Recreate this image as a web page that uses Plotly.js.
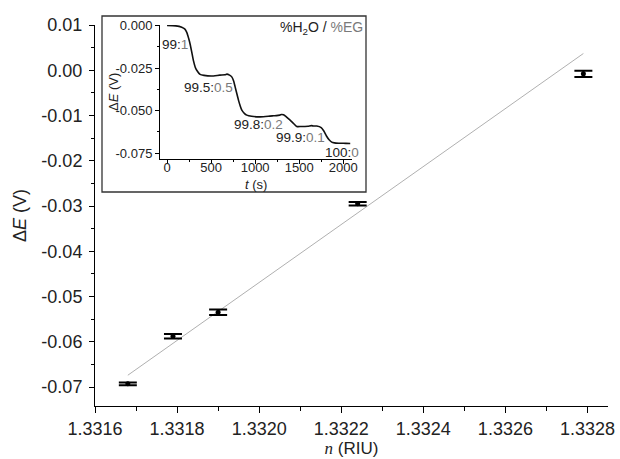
<!DOCTYPE html>
<html>
<head>
<meta charset="utf-8">
<script src="https://cdn.plot.ly/plotly-3.0.1.min.js"></script>
<style>html,body{margin:0;padding:0;background:#fff;}#chart{width:620px;height:459px;}</style>
</head>
<body>
<div id="chart"></div>
<script>
// Main chart data
const nRIU   = [1.33168, 1.33179, 1.33190, 1.33224, 1.33279];
const dE     = [-0.0693, -0.0588, -0.0535, -0.0295, -0.0008];
const dEerr  = [0.0003, 0.0005, 0.0006, 0.0004, 0.0007];
const fitN   = [1.33168, 1.33279];
const fitE   = [-0.0674, 0.0037];

// Inset data
const tSec = [0, 100, 167, 200, 224, 245, 261, 280, 299, 320, 337, 375, 420, 504, 600, 659, 680, 710, 735, 755, 773, 792, 811, 830, 849, 880, 905, 960, 1057, 1150, 1208, 1280, 1300, 1322, 1345, 1360, 1400, 1436, 1473, 1520, 1600, 1640, 1663, 1700, 1750, 1780, 1810, 1840, 1870, 1900, 1950, 2030, 2080];
const dEt  = [0, -0.0002, -0.001, -0.002, -0.004, -0.0075, -0.0107, -0.0155, -0.0205, -0.0245, -0.0263, -0.0287, -0.0293, -0.0297, -0.0292, -0.0290, -0.0286, -0.0292, -0.0302, -0.0325, -0.0361, -0.0400, -0.0439, -0.0472, -0.0498, -0.0518, -0.0527, -0.0534, -0.0537, -0.0534, -0.0531, -0.0527, -0.0523, -0.0525, -0.0533, -0.0540, -0.0558, -0.0576, -0.0594, -0.0594, -0.0592, -0.0589, -0.0591, -0.0591, -0.0600, -0.0620, -0.0650, -0.0672, -0.0686, -0.0690, -0.0692, -0.0693, -0.0694];

// Ratio labels (water : EG)
const waterPart = ['99:', '99.5:', '99.8:', '99.9:', '100:'];
const egPart    = ['1', '0.5', '0.2', '0.1', '0'];

// Tick labels
const xTickVals = [1.3316, 1.3318, 1.3320, 1.3322, 1.3324, 1.3326, 1.3328];
const xTickText = ['1.3316', '1.3318', '1.3320', '1.3322', '1.3324', '1.3326', '1.3328'];
const yTickVals = [0.01, 0.00, -0.01, -0.02, -0.03, -0.04, -0.05, -0.06, -0.07];
const yTickText = ['0.01', '0.00', '-0.01', '-0.02', '-0.03', '-0.04', '-0.05', '-0.06', '-0.07'];
const ixTickVals = [0, 500, 1000, 1500, 2000];
const ixTickText = ['0', '500', '1000', '1500', '2000'];
const iyTickVals = [0, -0.025, -0.05, -0.075];
const iyTickText = ['0.000', '-0.025', '-0.050', '-0.075'];

const FONT = 'Liberation Sans, Arial, sans-serif';
const SERIF = 'Liberation Serif';
const GRAY = '#7a7a7a';
const TXT = '#222';

const traces = [
  {
    x: fitN, y: fitE, type: 'scatter', mode: 'lines',
    line: {color: '#b0b0b0', width: 1}, hoverinfo: 'skip', xaxis: 'x', yaxis: 'y'
  },
  {
    x: nRIU, y: dE, type: 'scatter', mode: 'markers',
    marker: {color: '#000', size: 5},
    error_y: {type: 'data', array: dEerr, visible: true, color: '#000', thickness: 2, width: 9},
    xaxis: 'x', yaxis: 'y'
  },
  {
    x: tSec, y: dEt, type: 'scatter', mode: 'lines',
    line: {color: '#111', width: 1.6, shape: 'spline', smoothing: 0.6},
    xaxis: 'x2', yaxis: 'y2'
  }
];

const W = 620, H = 459, ML = 95, MR = 12, MT = 25, MB = 53;
const pw = W - ML - MR, ph = H - MT - MB;
const px = v => (v - ML) / pw;
const py = v => (H - MB - v) / ph;

const annPos = [[91, -0.0109], [466, -0.0362], [1034, -0.0585], [1511, -0.0656], [1989, -0.0744]];
const annotations = waterPart.map((w, i) => ({
  x: annPos[i][0], y: annPos[i][1], xref: 'x2', yref: 'y2',
  text: w + '<span style="fill:' + GRAY + '">' + egPart[i] + '</span>',
  showarrow: false, font: {family: FONT, size: 13.5, color: TXT},
  xanchor: 'center', yanchor: 'middle'
}));
annotations.push({
  x: 1755, y: -0.0015, xref: 'x2', yref: 'y2',
  text: '%H<sub>2</sub>O / <span style="fill:' + GRAY + '">%EG</span>',
  showarrow: false, font: {family: FONT, size: 14, color: TXT},
  xanchor: 'center', yanchor: 'middle'
});
// inset axis titles
annotations.push({
  x: px(113), y: py(92), xref: 'paper', yref: 'paper',
  text: 'Δ<i>E</i> (V)', textangle: -90, showarrow: false,
  font: {family: FONT, size: 13, color: TXT}, xanchor: 'center', yanchor: 'middle'
});
annotations.push({
  x: px(256), y: py(184.5), xref: 'paper', yref: 'paper',
  text: '<i>t</i> (s)', showarrow: false,
  font: {family: FONT, size: 13, color: TXT}, xanchor: 'center', yanchor: 'middle'
});

const layout = {
  width: W, height: H,
  margin: {l: ML, r: MR, t: MT, b: MB, pad: 0},
  paper_bgcolor: '#fff', plot_bgcolor: 'rgba(0,0,0,0)',
  showlegend: false,
  font: {family: FONT, color: TXT},
  xaxis: {
    domain: [0, 1], range: [1.3316, 1.33285], anchor: 'y',
    tickmode: 'array', tickvals: xTickVals, ticktext: xTickText,
    ticks: 'outside', ticklen: 6, tickwidth: 1, tickcolor: '#000',
    minor: {ticks: 'outside', ticklen: 4, tickwidth: 1, tickcolor: '#000', dtick: 0.0001, tick0: 1.3316},
    showline: true, linecolor: '#000', linewidth: 1, showgrid: false, zeroline: false,
    tickfont: {size: 18, family: FONT, color: TXT},
    title: {text: '<span style="font-family:' + SERIF + '"><i>n</i></span> (RIU)', font: {size: 17, family: FONT, color: TXT}, standoff: 3}
  },
  yaxis: {
    domain: [0, 1], range: [-0.0742, 0.01], anchor: 'x',
    tickmode: 'array', tickvals: yTickVals, ticktext: yTickText,
    ticks: 'outside', ticklen: 5, tickwidth: 1, tickcolor: '#000',
    minor: {ticks: 'outside', ticklen: 3, tickwidth: 1, tickcolor: '#000', dtick: 0.005, tick0: 0},
    showline: true, linecolor: '#000', linewidth: 1, showgrid: false, zeroline: false,
    ticklabelstandoff: 3,
    tickfont: {size: 18, family: FONT, color: TXT},
    title: {text: 'Δ<i>E</i> (V)', font: {size: 18, family: FONT, color: TXT}, standoff: 10}
  },
  xaxis2: {
    domain: [px(160), px(352)], range: [-80, 2100], anchor: 'y2',
    tickmode: 'array', tickvals: ixTickVals, ticktext: ixTickText,
    ticks: 'outside', ticklen: 4, tickwidth: 1, tickcolor: '#000',
    minor: {ticks: 'outside', ticklen: 2, tickwidth: 1, tickcolor: '#000', dtick: 250, tick0: 0},
    showline: true, linecolor: '#000', linewidth: 1, showgrid: false, zeroline: false,
    ticklabelstandoff: -8,
    tickfont: {size: 13, family: FONT, color: TXT}
  },
  yaxis2: {
    domain: [py(159), 1], range: [-0.0785, 0.0003], anchor: 'x2',
    tickmode: 'array', tickvals: iyTickVals, ticktext: iyTickText,
    ticks: 'outside', ticklen: 4, tickwidth: 1, tickcolor: '#000',
    minor: {ticks: 'outside', ticklen: 2, tickwidth: 1, tickcolor: '#000', dtick: 0.0125, tick0: 0},
    showline: true, linecolor: '#000', linewidth: 1, showgrid: false, zeroline: false,
    tickfont: {size: 13, family: FONT, color: TXT}
  },
  shapes: [{
    type: 'rect', xref: 'paper', yref: 'paper',
    x0: px(102), x1: px(366), y0: py(192), y1: py(16),
    line: {color: '#333', width: 1.3}, fillcolor: 'rgba(0,0,0,0)', layer: 'above'
  }],
  annotations: annotations
};

Plotly.newPlot('chart', traces, layout, {displayModeBar: false, staticPlot: true});
</script>
</body>
</html>
